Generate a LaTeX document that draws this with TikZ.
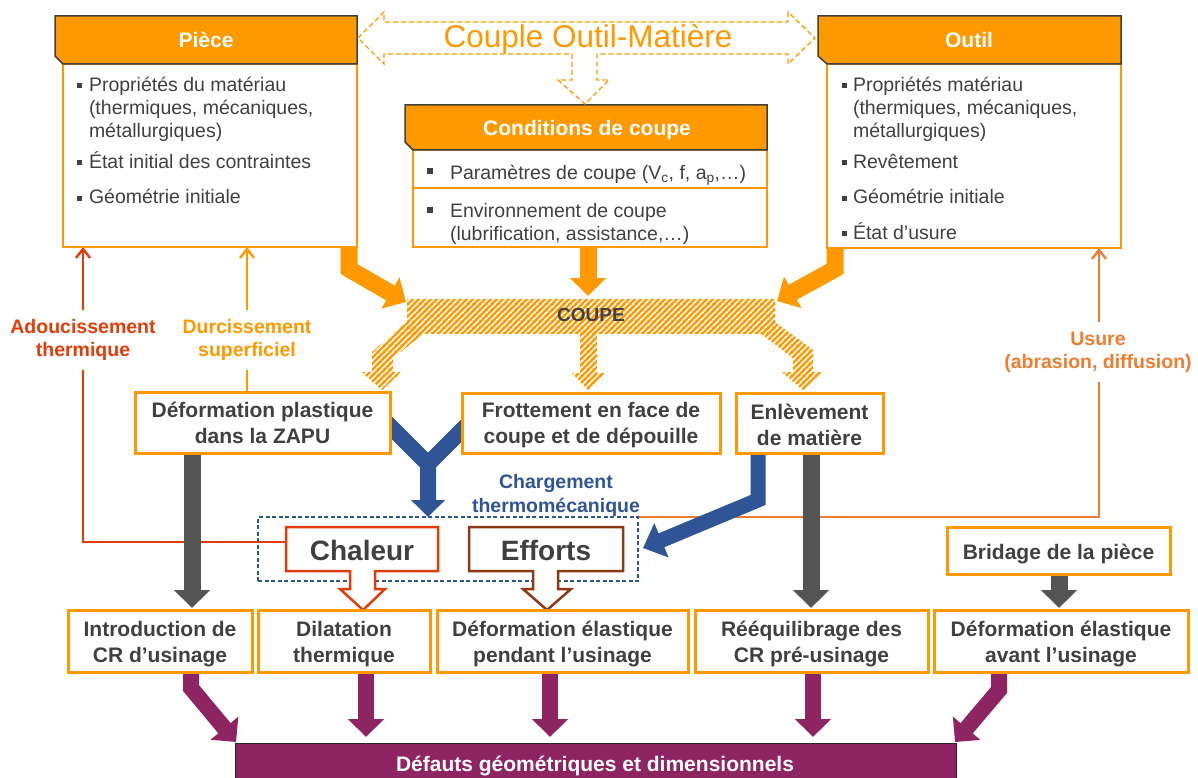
\documentclass[tikz,border=0pt]{standalone}
\usepackage{fontspec}
\setmainfont{Liberation Sans}
\usetikzlibrary{arrows.meta,backgrounds,patterns}
\definecolor{org}{RGB}{255,153,0}
\definecolor{txt}{RGB}{64,64,64}
\definecolor{hdr}{RGB}{64,64,64}
\definecolor{redc}{RGB}{226,60,10}
\definecolor{brn}{RGB}{140,58,22}
\definecolor{blu}{RGB}{47,85,151}
\definecolor{usr}{RGB}{237,125,49}
\definecolor{gry}{RGB}{84,84,84}
\definecolor{pur}{RGB}{142,36,98}
\pgfdeclarepatternformonly{hatchstripes}{\pgfqpoint{-1pt}{-1pt}}{\pgfqpoint{7pt}{7pt}}{\pgfqpoint{6pt}{6pt}}{%
  \pgfsetlinewidth{2.2pt}%
  \pgfpathmoveto{\pgfqpoint{-1pt}{-1pt}}\pgfpathlineto{\pgfqpoint{7pt}{7pt}}%
  \pgfpathmoveto{\pgfqpoint{-1pt}{5pt}}\pgfpathlineto{\pgfqpoint{1pt}{7pt}}%
  \pgfpathmoveto{\pgfqpoint{5pt}{-1pt}}\pgfpathlineto{\pgfqpoint{7pt}{1pt}}%
  \pgfusepath{stroke}}
\newcommand\bsq[3]{\fill[txt] ({#1-#3/2},{#2-#3/2}) rectangle ({#1+#3/2},{#2+#3/2});}
\newcommand\lowA{\rule{0pt}{21.5pt}}
\newcommand\lowB{\rule{0pt}{19.5pt}}
\begin{document}
\begin{tikzpicture}[x=1pt,y=-1pt,
  every node/.style={inner sep=0pt, outer sep=0pt},
  item/.style={anchor=base west, text=txt, font=\fontsize{19.5pt}{23pt}\selectfont},
  mbox/.style={draw=org, line width=3pt, fill=white, text=txt, align=center, font=\fontsize{21pt}{26pt}\selectfont\bfseries},
  lbl/.style={fill=white, align=center, inner xsep=3pt, inner ysep=9pt, font=\fontsize{19.5pt}{23pt}\selectfont\bfseries},
  hdtext/.style={text=white, anchor=base, font=\fontsize{21pt}{25pt}\selectfont\bfseries},
  barb/.style={line width=2.4pt, -{Straight Barb[length=9pt,width=14pt]}},
  fat/.style={line width=17pt, line join=miter, -{Triangle[length=18pt,width=35pt]}},
  hatch/.style={pattern=hatchstripes, pattern color=org},
]
\useasboundingbox (0,0) rectangle (1198,778);

% ---------- Piece ----------
\node[draw=org, line width=1.5pt, fill=white, minimum width=294pt, minimum height=183pt] (pbody) at (210,155.5) {};
\filldraw[fill=org, draw=hdr, line width=1.5pt] (55,16) -- (357,16) -- (357,64) -- (63,64) -- (55,56) -- cycle;
\node[hdtext] (phd) at (206,48) {Pièce};
\bsq{79.5}{86}{5}\bsq{79.5}{163}{5}\bsq{79.5}{198}{5}
\node[item] (p1) at (89,92) {Propriétés du matériau};
\node[item] (p2) at (89,115) {(thermiques, mécaniques,};
\node[item] (p3) at (89,138) {métallurgiques)};
\node[item] (p4) at (89,169) {État initial des contraintes};
\node[item] (p5) at (89,204) {Géométrie initiale};

% ---------- Outil ----------
\node[draw=org, line width=1.5pt, fill=white, minimum width=294pt, minimum height=184pt] (obody) at (974,156) {};
\filldraw[fill=org, draw=hdr, line width=1.5pt] (818,16) -- (1121,16) -- (1121,64) -- (827,64) -- (818,56) -- cycle;
\node[hdtext] (ohd) at (969,48) {Outil};
\bsq{844}{86}{5}\bsq{844}{163}{5}\bsq{844}{198}{5}\bsq{844}{233}{5}
\node[item] (o1) at (853,92) {Propriétés matériau};
\node[item] (o2) at (853,115) {(thermiques, mécaniques,};
\node[item] (o3) at (853,138) {métallurgiques)};
\node[item] (o4) at (853,169) {Revêtement};
\node[item] (o5) at (853,204) {Géométrie initiale};
\node[item] (o6) at (853,239) {État d’usure};

% ---------- Conditions de coupe ----------
\node[draw=org, line width=1.5pt, fill=white, minimum width=354pt, minimum height=97pt] (cbody) at (590,198.5) {};
\draw[org, line width=1.5pt] (cbody.west |- 0,188) -- (cbody.east |- 0,188);
\filldraw[fill=org, draw=hdr, line width=1.5pt] (405,105) -- (767,105) -- (767,150) -- (413,150) -- (405,142) -- cycle;
\node[hdtext] (chd) at (587,136) {Conditions de coupe};
\bsq{430}{171}{6}\bsq{430}{210}{6}
\node[item] (c1) at (450,179) {Paramètres de coupe (V\textsubscript{c}, f, a\textsubscript{p},…)};
\node[item] (c2) at (450,217) {Environnement de coupe};
\node[item] (c3) at (450,240) {(lubrification, assistance,…)};

% ---------- Couple Outil-Matiere ----------
\draw[org, line width=1.3pt, dash pattern=on 5pt off 3pt, fill=white, line join=miter]
  (358,38) -- (384,12) -- (384,22) -- (788,22) -- (788,12) -- (815,38) -- (788,64) -- (788,54)
  -- (597,54) -- (597,80) -- (609,80) -- (585,104) -- (558,80) -- (572,80) -- (572,54)
  -- (384,54) -- (384,64) -- cycle;
\node[anchor=base, text=org, font=\fontsize{31.5pt}{36pt}\selectfont] (cpl) at (588,48) {Couple Outil-Matière};

% ---------- COUPE ----------
\fill[hatch] (407,299) rectangle (775,333);
\fill[hatch] (407,322) -- (424,333) -- (393,358) -- (393,372) -- (401,372) -- (382,390) -- (362,372) -- (372,372) -- (372,352) -- cycle;
\fill[hatch] (580,330) -- (597,330) -- (597,373) -- (606,373) -- (588,390) -- (572,373) -- (580,373) -- cycle;
\fill[hatch] (775,322) -- (813,350) -- (813,372) -- (823,372) -- (803,390) -- (782,372) -- (793,372) -- (793,358) -- (760,333) -- cycle;
\node[anchor=base, text=txt, font=\fontsize{19pt}{22pt}\selectfont\bfseries] (coupe) at (591,321) {COUPE};

% ---------- middle boxes ----------
\node[mbox, minimum width=255pt, minimum height=61pt] (dp) at (262.5,422.5) {Déformation plastique\\dans la ZAPU};
\node[mbox, minimum width=258pt, minimum height=60pt] (fr) at (591,423) {\lowB Frottement en face de\\coupe et de dépouille};
\node[mbox, minimum width=147pt, minimum height=60pt] (en) at (809.5,423) {\lowB Enlèvement\\de matière};
\node[mbox, minimum width=223pt, minimum height=47pt] (br) at (1058.5,550.5) {\lowA Bridage de la pièce};

% ---------- chargement thermomecanique ----------
\node[draw=blu, line width=1.3pt, dash pattern=on 4pt off 2.5pt, minimum width=380pt, minimum height=64pt] (chg) at (448,549) {};
\node[align=center, text=blu, font=\fontsize{19.5pt}{24pt}\selectfont\bfseries] (chgtxt) at (556,495.5) {Chargement\\thermomécanique};
\filldraw[fill=white, draw=redc, line width=2.5pt, line join=miter]
  (286,527) -- (438,527) -- (438,571) -- (375,571) -- (375,589) -- (385,589) -- (363,610)
  -- (340,589) -- (350,589) -- (350,571) -- (286,571) -- cycle;
\node[anchor=base, text=txt, font=\fontsize{28pt}{32pt}\selectfont\bfseries] (chal) at (362,560) {Chaleur};
\filldraw[fill=white, draw=brn, line width=2.5pt, line join=miter]
  (469,527) -- (623,527) -- (623,571) -- (558,571) -- (558,589) -- (571,589) -- (547,610)
  -- (523,589) -- (533,589) -- (533,571) -- (469,571) -- cycle;
\node[anchor=base, text=txt, font=\fontsize{28pt}{32pt}\selectfont\bfseries] (eff) at (546,560) {Efforts};
\coordinate (chW) at (286,542);

% ---------- bottom boxes ----------
\node[mbox, minimum width=184pt, minimum height=62pt] (intro) at (160,641) {\lowA Introduction de\\CR d’usinage};
\node[mbox, minimum width=172pt, minimum height=62pt] (dil) at (344,641) {\lowA Dilatation\\thermique};
\node[mbox, minimum width=251pt, minimum height=62pt] (dep) at (562.5,641) {\lowA Déformation élastique\\pendant l’usinage};
\node[mbox, minimum width=233pt, minimum height=62pt] (ree) at (811.5,641) {\lowA Rééquilibrage des\\CR pré-usinage};
\node[mbox, minimum width=254pt, minimum height=62pt] (dav) at (1061,641) {\lowA Déformation élastique\\avant l’usinage};
\node[fill=pur, draw=black!85, line width=1pt, minimum width=721pt, minimum height=50pt] (def) at (595.5,768) {};
\node[anchor=base, text=white, font=\fontsize{21pt}{25pt}\selectfont\bfseries] (deftxt) at (595,771) {Défauts géométriques et dimensionnels};

% ---------- feedback labels ----------
\node[lbl, text=redc] (adou) at (83,340) {Adoucissement\\thermique};
\node[lbl, text=org] (durc) at (247,340) {Durcissement\\superficiel};
\node[lbl, text=usr, inner ysep=10pt] (usure) at (1098,352) {Usure\\(abrasion, diffusion)};

% ---------- connectors ----------
\begin{scope}[on background layer]
\fill[white] (0,0) rectangle (1198,778);
% thin feedback lines
\draw[redc, barb, line join=miter] (chW) -- (83,0 |- chW) -- (83,0 |- pbody.south);
\draw[org, barb] (247,0 |- dp.north) -- (247,0 |- pbody.south);
\draw[usr, barb, line join=miter] (chg.north east) -- (1099,0 |- chg.north east) -- (1099,0 |- obody.south);
% orange inputs to COUPE
\draw[fat, org] (349,0 |- pbody.south) -- (349,269) -- (406,302);
\draw[fat, org] (588,0 |- cbody.south) -- (588,296);
\draw[fat, org] (835,0 |- obody.south) -- (835,269) -- (777,301);
% blue
\draw[blu, line width=16pt] (383,419) -- (428,464);
\draw[blu, line width=16pt, line join=miter, -{Triangle[length=17pt,width=33pt]}] (473,419) -- (428,464) -- (428,0 |- chg.north);
\draw[blu, line width=15pt, line join=miter, -{Triangle[length=20pt,width=36pt]}] (758,0 |- en.south) -- (758,500) -- (643,548);
% gray
\draw[fat, gry] (192,0 |- dp.south) -- (192,608);
\draw[fat, gry] (811,0 |- en.south) -- (811,608);
\draw[fat, gry] (1059,0 |- br.south) -- (1059,608);
% purple
\draw[fat, pur, line width=16pt] (191,0 |- intro.south) -- (191,688) -- (236,742);
\draw[fat, pur, line width=16pt] (366,0 |- dil.south) -- (366,737);
\draw[fat, pur, line width=16pt] (550,0 |- dep.south) -- (550,737);
\draw[fat, pur, line width=16pt] (813,0 |- ree.south) -- (813,737);
\draw[fat, pur, line width=16pt] (999,0 |- dav.south) -- (999,690) -- (955,742);
\end{scope}
\end{tikzpicture}
\end{document}
